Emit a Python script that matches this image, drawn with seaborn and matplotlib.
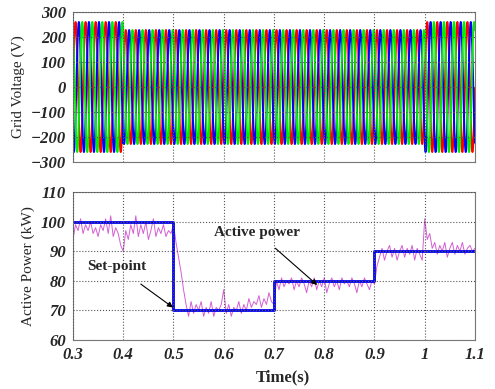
import matplotlib
matplotlib.use("Agg")
import matplotlib.pyplot as plt
import seaborn as sns
import numpy as np

# grid voltage: peak amplitude per time segment, 50 Hz three phase
volt_edges = [0.3, 0.4, 1.0, 1.1]
volt_peaks = [260, 228, 260]
grid_freq = 50

# set-point steps
sp_time = [0.3, 0.5, 0.7, 0.9, 1.1]
sp_power = [100, 70, 80, 90, 90]

power = [94, 99, 97, 101, 96, 99, 97, 100, 96, 98,
         95, 99, 97, 101, 96, 102, 95, 98, 96, 92,
         90, 97, 94, 99, 96, 102, 95, 99, 96, 100,
         94, 97, 101, 95, 98, 96, 99, 95, 97, 96,
         99, 93, 88, 83, 77, 72, 68, 73, 69, 72,
         70, 73, 68, 71, 69, 73, 68, 71, 70, 72,
         77, 69, 72, 68, 71, 70, 73, 69, 72, 70,
         74, 71, 73, 72, 75, 71, 74, 72, 76, 73,
         72, 80, 77, 81, 78, 80, 79, 81, 77, 80,
         78, 81, 79, 76, 80, 78, 81, 77, 80, 78,
         81, 76, 79, 81, 78, 80, 77, 81, 79, 80,
         78, 81, 79, 76, 80, 78, 81, 79, 77, 80,
         79, 85, 88, 91, 87, 90, 92, 88, 91, 87,
         90, 92, 88, 91, 89, 92, 87, 91, 89, 87,
         101, 94, 96, 91, 93, 89, 92, 90, 93, 88,
         91, 93, 89, 92, 90, 93, 89, 91, 92, 90,
         91]
power_time = np.linspace(0.3, 1.1, len(power))

xticks = [0.3, 0.4, 0.5, 0.6, 0.7, 0.8, 0.9, 1.0, 1.1]
xticklabels = ['0.3', '0.4', '0.5', '0.6', '0.7', '0.8', '0.9', '1', '1.1']

sns.set_style("white")
plt.rcParams['font.family'] = ['Liberation Serif', 'DejaVu Serif']

fig = plt.figure(figsize=(4.95, 3.89), dpi=100)
ax1 = fig.add_axes([0.1475, 0.5835, 0.812, 0.3856])
ax2 = fig.add_axes([0.1475, 0.126, 0.812, 0.380])

# three phase voltages
t = np.arange(0.3, 1.1, 1 / 20000)
amp = np.zeros_like(t)
for i in range(len(volt_peaks)):
    amp[(t >= volt_edges[i]) & (t <= volt_edges[i + 1])] = volt_peaks[i]
for shift, col in zip([0, -2 * np.pi / 3, 2 * np.pi / 3], ['#ff0000', '#0000ff', '#00ee00']):
    sns.lineplot(x=t, y=amp * np.sin(2 * np.pi * grid_freq * t + shift), ax=ax1,
                 color=col, linewidth=1.4, estimator=None, sort=False)

ax1.set_xlim(0.3, 1.1)
ax1.set_ylim(-300, 300)
ax1.set_yticks([-300, -200, -100, 0, 100, 200, 300])
ax1.set_xticks(xticks)
ax1.set_xticklabels([])
ax1.set_ylabel('Grid Voltage (V)', fontsize=11)

# active power
sns.lineplot(x=power_time, y=power, ax=ax2, color='#d35fd3', linewidth=0.7, estimator=None)
sns.lineplot(x=sp_time, y=sp_power, ax=ax2, color='#0000ee', linewidth=2,
             drawstyle='steps-post', estimator=None)

ax2.set_xlim(0.3, 1.1)
ax2.set_ylim(60, 110)
ax2.set_yticks([60, 70, 80, 90, 100, 110])
ax2.set_xticks(xticks)
ax2.set_xticklabels(xticklabels)
ax2.set_ylabel('Active Power (kW)', fontsize=11)
ax2.set_xlabel('Time(s)', fontsize=12, fontweight='bold')
ax2.xaxis.set_label_coords(0.522, -0.2)

ax2.annotate('Set-point', xy=(0.499, 71), xytext=(0.388, 84.7),
             fontsize=11, fontweight='bold', ha='center', va='center',
             arrowprops=dict(arrowstyle='-|>', color='black', lw=0.8,
                             shrinkA=9, shrinkB=0, mutation_scale=8))
ax2.annotate('Active power', xy=(0.786, 78.6), xytext=(0.666, 96.5),
             fontsize=11, fontweight='bold', ha='center', va='center',
             arrowprops=dict(arrowstyle='-|>', color='black', lw=0.8,
                             shrinkA=7, shrinkB=0, mutation_scale=8))

for ax in (ax1, ax2):
    ax.grid(True, linestyle=':', color='#555555', linewidth=0.8)
    ax.set_axisbelow(False)
    for s in ax.spines.values():
        s.set_color('#777777')
        s.set_linewidth(0.8)
    ax.tick_params(axis='both', length=0, pad=5)
    for lab in ax.get_xticklabels() + ax.get_yticklabels():
        lab.set_fontweight('bold')
        lab.set_fontstyle('italic')
        lab.set_fontsize(12)

fig.savefig('out.png', dpi=100)
